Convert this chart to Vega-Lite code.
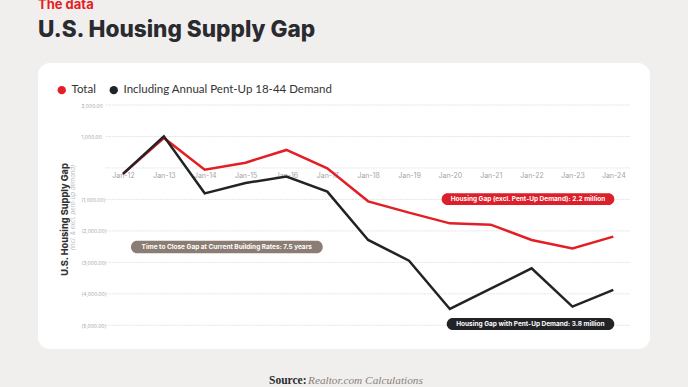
{
  "$schema": "https://vega.github.io/schema/vega-lite/v6.json",
  "width": 612,
  "height": 286,
  "autosize": {"type": "none"},
  "padding": {"left": 38, "top": 63, "right": 38, "bottom": 38},
  "background": "#f0efee",
  "config": {
    "view": {"fill": "white", "stroke": null, "cornerRadius": 12},
    "font": "Inter"
  },
  "title": {
    "text": "The data",
    "subtitle": "U.S. Housing Supply Gap",
    "anchor": "start",
    "frame": "group",
    "color": "#e31e24",
    "fontSize": 13,
    "fontWeight": "bold",
    "font": "Inter",
    "subtitleColor": "#2a2b2e",
    "subtitleFontSize": 22.6,
    "subtitleFontWeight": 800,
    "subtitleFont": "Inter",
    "subtitlePadding": 7,
    "offset": 21
  },
  "datasets": {
    "grid": [
      {"g": 2000}, {"g": 1000}, {"g": 0}, {"g": -1000}, {"g": -2000}, {"g": -3000}, {"g": -4000}, {"g": -5000}
    ],
    "lines": [
      {"series": "Total", "year": 2012, "v": -190},
      {"series": "Total", "year": 2013, "v": 953},
      {"series": "Total", "year": 2014, "v": -54},
      {"series": "Total", "year": 2015, "v": 168},
      {"series": "Total", "year": 2016, "v": 572},
      {"series": "Total", "year": 2017, "v": -13},
      {"series": "Total", "year": 2018, "v": -1061},
      {"series": "Total", "year": 2019, "v": -1420},
      {"series": "Total", "year": 2020, "v": -1760},
      {"series": "Total", "year": 2021, "v": -1802},
      {"series": "Total", "year": 2022, "v": -2288},
      {"series": "Total", "year": 2023, "v": -2555},
      {"series": "Total", "year": 2024, "v": -2183},
      {"series": "Including Annual Pent-Up 18-44 Demand", "year": 2012, "v": -190},
      {"series": "Including Annual Pent-Up 18-44 Demand", "year": 2013, "v": 1004},
      {"series": "Including Annual Pent-Up 18-44 Demand", "year": 2014, "v": -807},
      {"series": "Including Annual Pent-Up 18-44 Demand", "year": 2015, "v": -477},
      {"series": "Including Annual Pent-Up 18-44 Demand", "year": 2016, "v": -276},
      {"series": "Including Annual Pent-Up 18-44 Demand", "year": 2017, "v": -753},
      {"series": "Including Annual Pent-Up 18-44 Demand", "year": 2018, "v": -2288},
      {"series": "Including Annual Pent-Up 18-44 Demand", "year": 2019, "v": -2946},
      {"series": "Including Annual Pent-Up 18-44 Demand", "year": 2020, "v": -4480},
      {"series": "Including Annual Pent-Up 18-44 Demand", "year": 2021, "v": -3835},
      {"series": "Including Annual Pent-Up 18-44 Demand", "year": 2022, "v": -3190},
      {"series": "Including Annual Pent-Up 18-44 Demand", "year": 2023, "v": -4407},
      {"series": "Including Annual Pent-Up 18-44 Demand", "year": 2024, "v": -3877}
    ],
    "pills": [
      {"kind": "excl", "label": "Housing Gap (excl. Pent-Up Demand): 2.2 million", "x1": 2019.80, "x2": 2024.024, "y1": -807, "y2": -1176, "xc": 2021.91, "yc": -991},
      {"kind": "time", "label": "Time to Close Gap at Current Building Rates: 7.5 years", "x1": 2012.196, "x2": 2016.888, "y1": -2310, "y2": -2714, "xc": 2014.54, "yc": -2512},
      {"kind": "with", "label": "Housing Gap with Pent-Up Demand: 3.8 million", "x1": 2019.923, "x2": 2024.024, "y1": -4766, "y2": -5148, "xc": 2021.97, "yc": -4957}
    ],
    "sub": [
      {"t": "(incl. & excl. pent-up demand)", "x": 2010.769, "y": -1262}
    ],
    "srcA": [
      {"t": "Source:", "x": 2015.574, "y": -6854}
    ],
    "srcB": [
      {"t": "Realtor.com Calculations", "x": 2016.528, "y": -6854}
    ]
  },
  "layer": [
    {
      "data": {"name": "grid"},
      "mark": {"type": "rule", "color": "#e4e4e4", "strokeWidth": 1, "strokeDash": [2, 1]},
      "encoding": {
        "y": {
          "field": "g",
          "type": "quantitative",
          "scale": {"domain": [-5753, 3335], "nice": false, "zero": false},
          "axis": {
            "title": "U.S. Housing Supply Gap",
            "values": [-5000, -4000, -3000, -2000, -1000, 1000, 2000],
            "labelExpr": "datum.value < 0 ? '(' + format(-datum.value, ',.2f') + ')' : format(datum.value, ',.2f')",
            "offset": -43,
            "labelAlign": "left",
            "labelPadding": 0,
            "labelBaseline": "middle",
            "labelFontSize": 5,
            "labelColor": "#a8a8a8",
            "labelFont": "Inter",
            "domain": false,
            "ticks": false,
            "grid": false,
            "titleX": -17,
            "titleY": 156,
            "titleAngle": -90,
            "titleBaseline": "middle",
            "titleAlign": "center",
            "titleFontSize": 9.2,
            "titleFontWeight": 800,
            "titleColor": "#333333",
            "titleFont": "Inter"
          }
        },
        "x": {
          "datum": 2011.577,
          "type": "quantitative",
          "scale": {"domain": [2009.92, 2024.898], "nice": false, "zero": false},
          "axis": {
            "title": null,
            "values": [2012, 2013, 2014, 2015, 2016, 2017, 2018, 2019, 2020, 2021, 2022, 2023, 2024],
            "labelExpr": "'Jan-' + substring(toString(datum.value), 2)",
            "offset": -181.7,
            "labelPadding": 4,
            "labelBaseline": "top",
            "labelFontSize": 7,
            "labelColor": "#a5a5a5",
            "labelFont": "Inter",
            "domain": false,
            "ticks": false,
            "grid": false
          }
        },
        "x2": {"datum": 2024.408}
      }
    },
    {
      "data": {"name": "pills"},
      "mark": {"type": "rect", "cornerRadius": 6},
      "encoding": {
        "x": {"field": "x1", "type": "quantitative"},
        "x2": {"field": "x2"},
        "y": {"field": "y1", "type": "quantitative"},
        "y2": {"field": "y2"},
        "fill": {"field": "kind", "type": "nominal", "scale": {"domain": ["excl", "time", "with"], "range": ["#dc1f2a", "#8b7d74", "#222326"]}, "legend": null}
      }
    },
    {
      "data": {"name": "pills"},
      "mark": {"type": "text", "color": "white", "fontSize": 6.5, "fontWeight": "bold", "font": "Inter", "align": "center", "baseline": "middle"},
      "encoding": {
        "x": {"field": "xc", "type": "quantitative"},
        "y": {"field": "yc", "type": "quantitative"},
        "text": {"field": "label"}
      }
    },
    {
      "data": {"name": "lines"},
      "transform": [{"filter": "datum.series === 'Total'"}],
      "mark": {"type": "line", "strokeWidth": 2.5},
      "encoding": {
        "x": {"field": "year", "type": "quantitative"},
        "y": {"field": "v", "type": "quantitative"},
        "color": {
          "field": "series",
          "type": "nominal",
          "scale": {"domain": ["Total", "Including Annual Pent-Up 18-44 Demand"], "range": ["#e31e24", "#222326"]},
          "legend": {
            "title": null,
            "orient": "none",
            "legendX": 18,
            "legendY": 21,
            "direction": "horizontal",
            "symbolType": "circle",
            "symbolSize": 70,
            "symbolStrokeWidth": 0,
            "labelFont": "Lato",
            "labelFontSize": 11.5,
            "labelColor": "#333333",
            "labelOffset": 4,
            "labelLimit": 400,
            "columnPadding": 12,
            "padding": 0,
            "encode": {"symbols": {"update": {"fill": {"scale": "color", "field": "value"}, "fillOpacity": {"value": 1}}}}
          }
        }
      }
    },
    {
      "data": {"name": "lines"},
      "transform": [{"filter": "datum.series !== 'Total'"}],
      "mark": {"type": "line", "strokeWidth": 2.5},
      "encoding": {
        "x": {"field": "year", "type": "quantitative"},
        "y": {"field": "v", "type": "quantitative"},
        "color": {"field": "series", "type": "nominal"}
      }
    },
    {
      "data": {"name": "sub"},
      "mark": {"type": "text", "angle": 270, "fontSize": 6, "fontStyle": "italic", "color": "#c0c0c0", "font": "Inter", "align": "center", "baseline": "middle"},
      "encoding": {
        "x": {"field": "x", "type": "quantitative"},
        "y": {"field": "y", "type": "quantitative"},
        "text": {"field": "t"}
      }
    },
    {
      "data": {"name": "srcA"},
      "mark": {"type": "text", "fontSize": 11.5, "fontWeight": "bold", "color": "#2a2b2e", "font": "Liberation Serif", "align": "left", "baseline": "alphabetic"},
      "encoding": {
        "x": {"field": "x", "type": "quantitative"},
        "y": {"field": "y", "type": "quantitative"},
        "text": {"field": "t"}
      }
    },
    {
      "data": {"name": "srcB"},
      "mark": {"type": "text", "fontSize": 11.3, "fontStyle": "italic", "color": "#8a7f78", "font": "Liberation Serif", "align": "left", "baseline": "alphabetic"},
      "encoding": {
        "x": {"field": "x", "type": "quantitative"},
        "y": {"field": "y", "type": "quantitative"},
        "text": {"field": "t"}
      }
    }
  ]
}
